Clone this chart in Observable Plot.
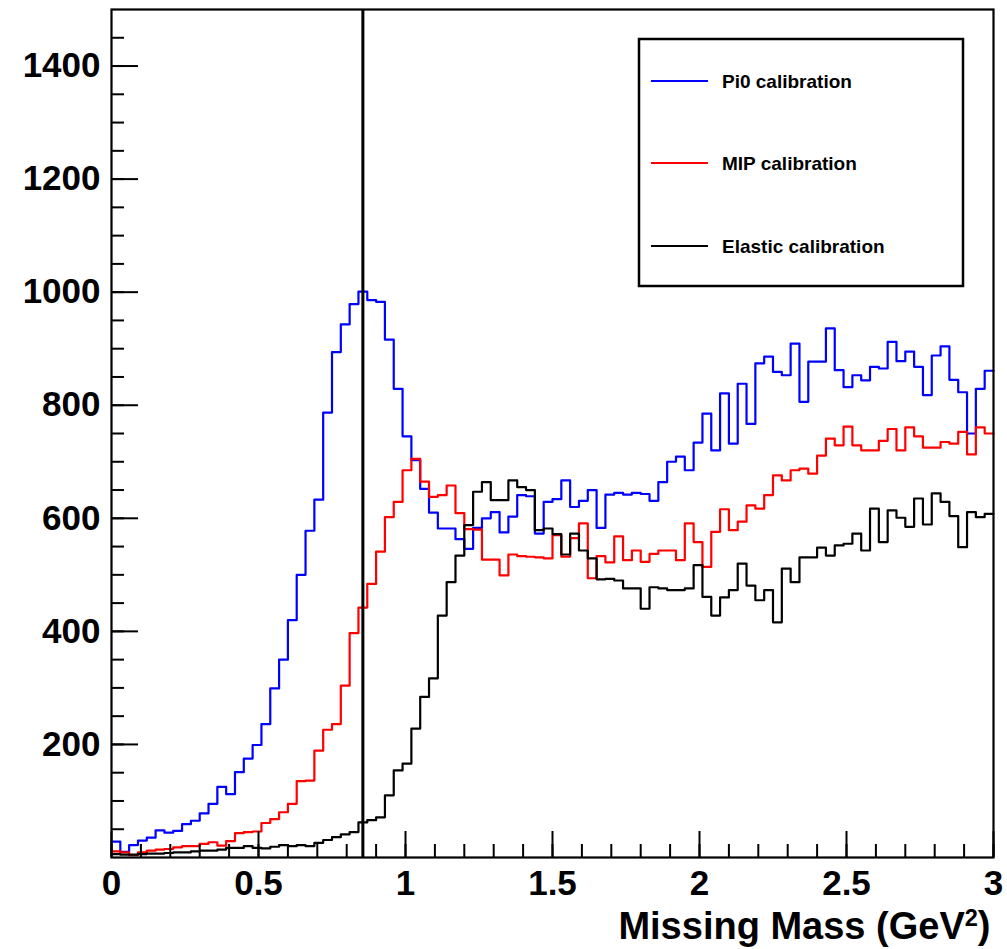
<!DOCTYPE html>
<html>
<head>
<meta charset="utf-8">
<script src="https://cdn.jsdelivr.net/npm/d3@7"></script>
<script src="https://cdn.jsdelivr.net/npm/@observablehq/plot@0.6"></script>
<style>
  html, body { margin: 0; padding: 0; background: #fff; }
  #chart { position: relative; width: 1007px; height: 949px; }
</style>
</head>
<body>
<div id="chart"></div>
<script>
// ---- data (histograms: 100 bins over [0, 3] GeV^2) ----
const xMin = 0;
const xMax = 3;
const seriesNames = ["Pi0 calibration", "MIP calibration", "Elastic calibration"];
const seriesColors = ["#0000ff", "#ff0000", "#000000"];

const pi0Counts = [
  28, 10, 22, 30, 35, 48, 44, 47, 59, 65,
  78, 95, 125, 112, 151, 175, 199, 236, 299, 350,
  420, 500, 578, 633, 787, 894, 943, 979, 1001, 986,
  983, 916, 829, 745, 703, 652, 610, 582, 582, 563,
  546, 583, 600, 611, 575, 603, 641, 639, 573, 629,
  634, 667, 620, 631, 650, 583, 642, 645, 642, 645,
  643, 631, 664, 700, 709, 685, 734, 785, 720, 821,
  732, 838, 767, 874, 886, 859, 853, 909, 806, 877,
  877, 936, 862, 832, 853, 844, 868, 865, 912, 878,
  895, 868, 818, 888, 904, 845, 823, 750, 829, 861
];
const mipCounts = [
  11, 9, 4, 9, 12, 14, 15, 18, 20, 20,
  24, 27, 21, 29, 43, 45, 46, 61, 68, 80,
  95, 135, 136, 189, 226, 236, 304, 397, 442, 484,
  541, 602, 629, 685, 705, 665, 638, 641, 658, 609,
  581, 580, 527, 527, 499, 536, 533, 532, 531, 529,
  570, 532, 565, 591, 494, 533, 522, 568, 526, 543,
  523, 537, 543, 543, 526, 591, 558, 514, 576, 616,
  579, 594, 623, 617, 641, 676, 667, 685, 688, 679,
  711, 741, 729, 762, 729, 720, 720, 737, 758, 720,
  761, 745, 725, 725, 735, 732, 753, 713, 761, 750
];
const elasticCounts = [
  6, 5, 5, 6, 7, 7, 8, 9, 9, 11,
  12, 12, 14, 17, 17, 20, 17, 16, 19, 22,
  20, 22, 20, 26, 31, 36, 41, 45, 62, 66,
  71, 110, 154, 166, 228, 284, 317, 428, 487, 534,
  588, 647, 664, 632, 632, 667, 655, 650, 579, 582,
  572, 536, 573, 543, 529, 492, 493, 490, 476, 476,
  440, 478, 476, 473, 473, 476, 517, 461, 428, 460,
  473, 520, 481, 455, 473, 416, 511, 487, 531, 531,
  548, 534, 552, 555, 573, 543, 617, 558, 614, 601,
  585, 635, 589, 644, 629, 604, 549, 611, 602, 608
];
const cutValue = [0.855];

const xTickLabels = [0, 0.5, 1, 1.5, 2, 2.5, 3];
const xMinorTicks = d3.range(0, 31).map(i => i / 10);
const yTickLabels = [200, 400, 600, 800, 1000, 1200, 1400];
const yMinorTicks = d3.range(1, 30).map(i => i * 50);
const xLabel = "Missing Mass (GeV";
const xLabelSup = "2";

// ---- build step rows ----
function stepRows(counts, name) {
  const n = counts.length;
  const w = (xMax - xMin) / n;
  const rows = counts.map((v, i) => ({x: xMin + i * w, y: v, series: name}));
  rows.push({x: xMax, y: counts[n - 1], series: name});
  return rows;
}
const allCounts = [pi0Counts, mipCounts, elasticCounts];

const W = 1007, H = 949;
const mL = 111, mR = 14, mT = 9, mB = 92;
const innerW = W - mL - mR, innerH = H - mT - mB;

const svg = Plot.plot({
  width: W,
  height: H,
  marginLeft: mL,
  marginRight: mR,
  marginTop: mT,
  marginBottom: mB,
  style: {fontFamily: "'Liberation Sans', Arial, sans-serif", fontSize: "35px", fontWeight: "bold", background: "#fff", color: "#000", overflow: "visible"},
  x: {domain: [xMin, xMax]},
  y: {domain: [0, 1500]},
  marks: [
    ...allCounts.map((c, i) => Plot.line(stepRows(c, seriesNames[i]), {
      x: "x", y: "y", curve: "step-after", stroke: seriesColors[i], strokeWidth: 2.2
    })),
    Plot.ruleX(cutValue, {stroke: "#000", strokeWidth: 3}),
    Plot.frame({stroke: "#000", strokeWidth: 2.2}),
    Plot.tickY(yMinorTicks, {y: d => d, insetRight: innerW - 13, stroke: "#000", strokeWidth: 2}),
    Plot.tickY(yTickLabels, {y: d => d, insetRight: innerW - 27, stroke: "#000", strokeWidth: 2}),
    Plot.tickX(xMinorTicks, {x: d => d, insetTop: innerH - 13, stroke: "#000", strokeWidth: 2}),
    Plot.tickX(xTickLabels, {x: d => d, insetTop: innerH - 26, stroke: "#000", strokeWidth: 2}),
    Plot.axisY(yTickLabels, {anchor: "left", tickSize: 0, tickPadding: 11, tickFormat: d => String(d), label: null, fontSize: 35, fontWeight: "bold"}),
    Plot.axisX(xTickLabels, {anchor: "bottom", tickSize: 0, tickPadding: 13, tickFormat: d => String(d), label: null, fontSize: 35, fontWeight: "bold"}),
    Plot.text([xLabel], {frameAnchor: "bottom-right", text: d => d, textAnchor: "end", dx: -3, dy: 81, fontSize: 38, fontWeight: "bold", className: "xlabel"})
  ]
});

// superscript on the axis title
const lbl = d3.select(svg).select(".xlabel text");
lbl.append("tspan").attr("dy", "-0.55em").attr("font-size", "0.62em").text(xLabelSup);
lbl.append("tspan").attr("dy", "0.34em").text(")");

// legend box
const lg = d3.select(svg).append("g").attr("class", "legend").attr("text-anchor", "start");
lg.append("rect").attr("x", 639).attr("y", 39).attr("width", 324).attr("height", 247)
  .attr("fill", "#fff").attr("stroke", "#000").attr("stroke-width", 2.5);
const entryY = [81, 163, 246];
seriesNames.forEach((name, i) => {
  lg.append("line").attr("x1", 651).attr("x2", 708).attr("y1", entryY[i]).attr("y2", entryY[i])
    .attr("stroke", seriesColors[i]).attr("stroke-width", 2);
  lg.append("text").attr("x", 722).attr("y", entryY[i]).attr("dy", "0.35em")
    .attr("text-anchor", "start")
    .attr("font-size", 19).attr("font-weight", "bold").attr("fill", "#000").text(name);
});

document.getElementById("chart").appendChild(svg);
</script>
</body>
</html>
